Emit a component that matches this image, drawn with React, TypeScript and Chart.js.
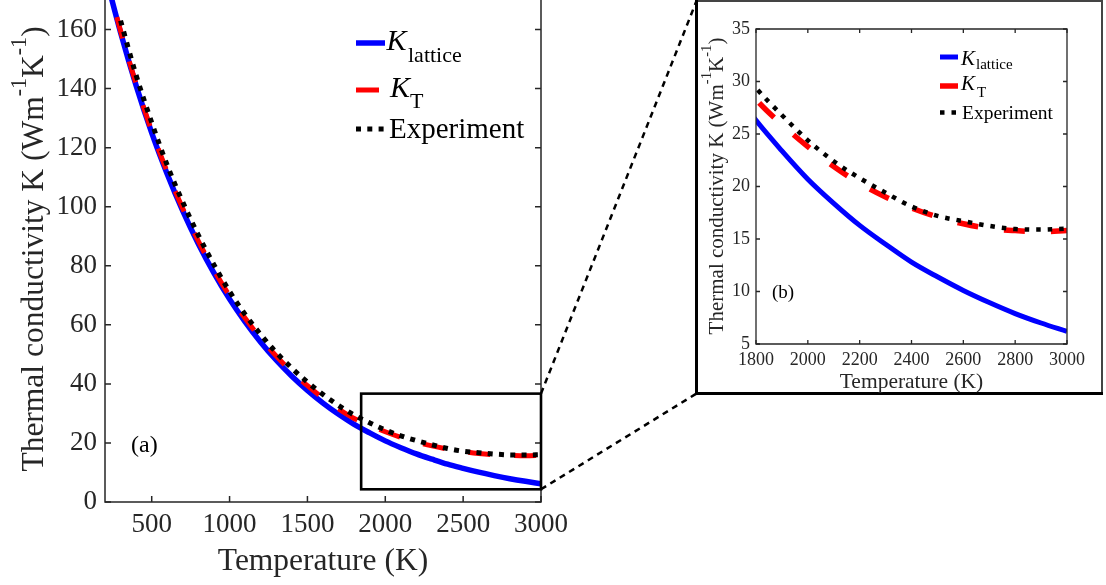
import React, { useEffect, useRef } from 'react';
import { Chart, registerables } from 'chart.js';

Chart.register(...registerables);

// ---------------- data ----------------
const modelTemps = [200, 300, 400, 500, 600, 700, 800, 900, 1000, 1100, 1200, 1300, 1400, 1500, 1600, 1700, 1800, 1900, 2000, 2100, 2200, 2300, 2400, 2500, 2600, 2700, 2800, 2900, 3000];
const kLattice = [179, 159, 141, 125, 111, 98.5, 87.4, 77.5, 68.7, 61.0, 54.1, 48.0, 42.6, 37.8, 33.5, 29.7, 26.3, 23.4, 20.7, 18.4, 16.3, 14.5, 12.8, 11.4, 10.1, 8.95, 7.9, 7.0, 6.2];
const kTotal = [179.3, 159.5, 141.5, 125.6, 111.7, 99.3, 88.3, 78.5, 69.8, 62.2, 55.4, 49.4, 44.1, 39.4, 35.2, 31.5, 28.3, 25.9, 23.8, 21.9, 20.3, 19.0, 17.95, 17.1, 16.45, 16.0, 15.8, 15.7, 15.8];
const expTemps = [300, 400, 500, 600, 700, 800, 900, 1000, 1100, 1200, 1300, 1400, 1500, 1600, 1700, 1800, 1900, 2000, 2100, 2200, 2300, 2400, 2500, 2600, 2700, 2800, 2900, 3000];
const kExperiment = [163, 144.5, 128.5, 114, 101.5, 90.3, 80.3, 71.3, 63.5, 56.7, 50.6, 45.3, 40.6, 36.4, 32.7, 29.4, 26.8, 24.4, 22.4, 20.8, 19.4, 18.1, 17.2, 16.7, 16.25, 15.95, 15.9, 16.0];

const mainXTicks = [500, 1000, 1500, 2000, 2500, 3000];
const mainYTicks = [0, 20, 40, 60, 80, 100, 120, 140, 160];
const insetXTicks = [1800, 2000, 2200, 2400, 2600, 2800, 3000];
const insetYTicks = [5, 10, 15, 20, 25, 30, 35];

const mainRange = { xMin: 200, xMax: 3000, yMin: 0, yMax: 170 };
const insetRange = { xMin: 1800, xMax: 3000, yMin: 5, yMax: 35 };
const zoomBox = { xMin: 1845, xMax: 3000, yMin: 4.3, yMax: 36.7 };

const seriesNames = ['K_lattice', 'K_T', 'Experiment'];

// ---------------- layout / style ----------------
const W = 1106;
const H = 585;
const FONT = "'Liberation Serif', 'Times New Roman', serif";
const AXIS = '#262626';
const BLUE = '#0000ff';
const RED = '#ff0000';
const BLACK = '#000000';

const AREA = {
  main: { left: 105, right: 541, top: 0, bottom: 502 },
  inset: { left: 756, right: 1067, top: 29, bottom: 344 },
};
const FRAME = { left: 696.5, top: 1, right: 1102, bottom: 393.5 };

const STYLE = {
  main: {
    tickFont: 27, tickPadX: 7, tickPadY: 8, tickLen: 6, axisWidth: 1.5,
    blueW: 5.5, redW: 5, redDash: [22, 24], blackW: 5, blackDash: [5, 6.3],
    xTitle: { size: 31.5, baseline: 570 },
    yTitle: { size: 31.5, baselineX: 43, centerY: 249 },
    panel: { text: '(a)', x: 131, y: 452, size: 24 },
    legend: {
      sampleX1: 356, sampleX2: 385,
      rows: [
        { y: 43, K: { x: 386.5, y: 50, size: 30 }, sub: { t: 'lattice', x: 408, y: 62, size: 22 } },
        { y: 90, K: { x: 390, y: 97, size: 30 }, sub: { t: 'T', x: 410, y: 108, size: 22 } },
        { y: 129, text: { t: 'Experiment', x: 389, y: 138, size: 29 } },
      ],
      redX2: 379,
    },
  },
  inset: {
    tickFont: 18, tickPadX: 5, tickPadY: 6, tickLen: 4, axisWidth: 1.3,
    blueW: 5, redW: 5.5, redDash: [21, 26], blackW: 4.5, blackDash: [4.5, 7],
    xTitle: { size: 21.5, baseline: 388 },
    yTitle: { size: 21, baselineX: 723, centerY: 186 },
    panel: { text: '(b)', x: 772, y: 298, size: 19 },
    legend: {
      sampleX1: 940, sampleX2: 958,
      rows: [
        { y: 57, K: { x: 961, y: 65, size: 21 }, sub: { t: 'lattice', x: 976, y: 69, size: 15 } },
        { y: 86, K: { x: 961, y: 90, size: 21 }, sub: { t: 'T', x: 977, y: 97, size: 15 } },
        { y: 112.5, text: { t: 'Experiment', x: 962, y: 118.5, size: 19.5 } },
      ],
      redX2: 958,
    },
  },
};

type Kind = 'main' | 'inset';

function pts(xs: number[], ys: number[]) {
  return xs.map((x, i) => ({ x, y: ys[i] }));
}

function drawRotatedTitle(ctx: CanvasRenderingContext2D, baselineX: number, centerY: number, size: number) {
  const parts = [
    { t: 'Thermal conductivity K (Wm', sup: false },
    { t: '-1', sup: true },
    { t: 'K', sup: false },
    { t: '-1', sup: true },
    { t: ')', sup: false },
  ];
  ctx.save();
  ctx.translate(baselineX, centerY);
  ctx.rotate(-Math.PI / 2);
  ctx.fillStyle = AXIS;
  ctx.textBaseline = 'alphabetic';
  ctx.textAlign = 'left';
  let total = 0;
  const widths: number[] = [];
  for (const p of parts) {
    ctx.font = `${p.sup ? size * 0.7 : size}px ${FONT}`;
    const w = ctx.measureText(p.t).width;
    widths.push(w);
    total += w;
  }
  let u = -total / 2;
  parts.forEach((p, i) => {
    ctx.font = `${p.sup ? size * 0.7 : size}px ${FONT}`;
    ctx.fillText(p.t, u, p.sup ? -size * 0.55 : 0);
    u += widths[i];
  });
  ctx.restore();
}

function decorPlugin(kind: Kind) {
  const st = STYLE[kind];
  return {
    id: 'decor_' + kind,
    afterDatasetsDraw(chart: any) {
      const ctx: CanvasRenderingContext2D = chart.ctx;
      const a = chart.chartArea;
      const xs = chart.scales.x;
      const ys = chart.scales.y;
      ctx.save();
      ctx.setLineDash([]);
      ctx.lineCap = 'butt';

      // axes box
      ctx.strokeStyle = AXIS;
      ctx.lineWidth = st.axisWidth;
      ctx.beginPath();
      ctx.moveTo(a.left, a.top);
      ctx.lineTo(a.left, a.bottom);
      ctx.lineTo(a.right, a.bottom);
      ctx.lineTo(a.right, a.top);
      if (kind === 'inset') ctx.closePath();
      ctx.stroke();

      // inward tick marks
      ctx.beginPath();
      for (const t of xs.ticks) {
        const px = xs.getPixelForValue(t.value);
        ctx.moveTo(px, a.bottom);
        ctx.lineTo(px, a.bottom - st.tickLen);
        if (kind === 'inset') {
          ctx.moveTo(px, a.top);
          ctx.lineTo(px, a.top + st.tickLen);
        }
      }
      for (const t of ys.ticks) {
        const py = ys.getPixelForValue(t.value);
        ctx.moveTo(a.left, py);
        ctx.lineTo(a.left + st.tickLen, py);
        ctx.moveTo(a.right, py);
        ctx.lineTo(a.right - st.tickLen, py);
      }
      ctx.stroke();

      // axis titles
      ctx.fillStyle = AXIS;
      ctx.textBaseline = 'alphabetic';
      ctx.textAlign = 'center';
      ctx.font = `${st.xTitle.size}px ${FONT}`;
      ctx.fillText('Temperature (K)', (a.left + a.right) / 2, st.xTitle.baseline);
      drawRotatedTitle(ctx, st.yTitle.baselineX, st.yTitle.centerY, st.yTitle.size);

      // panel label
      ctx.fillStyle = BLACK;
      ctx.textAlign = 'left';
      ctx.font = `${st.panel.size}px ${FONT}`;
      ctx.fillText(st.panel.text, st.panel.x, st.panel.y);

      // legend
      const lg = st.legend;
      const rows = lg.rows as any[];
      // blue
      ctx.strokeStyle = BLUE;
      ctx.lineWidth = st.blueW;
      ctx.beginPath();
      ctx.moveTo(lg.sampleX1, rows[0].y);
      ctx.lineTo(lg.sampleX2, rows[0].y);
      ctx.stroke();
      // red
      ctx.strokeStyle = RED;
      ctx.lineWidth = st.redW;
      ctx.beginPath();
      ctx.moveTo(lg.sampleX1, rows[1].y);
      ctx.lineTo(lg.redX2, rows[1].y);
      ctx.stroke();
      // black dotted
      ctx.strokeStyle = BLACK;
      ctx.lineWidth = st.blackW;
      ctx.setLineDash(st.blackDash);
      ctx.beginPath();
      ctx.moveTo(lg.sampleX1, rows[2].y);
      ctx.lineTo(lg.sampleX2, rows[2].y);
      ctx.stroke();
      ctx.setLineDash([]);
      ctx.fillStyle = BLACK;
      ctx.textAlign = 'left';
      for (const r of rows) {
        if (r.K) {
          ctx.font = `italic ${r.K.size}px ${FONT}`;
          ctx.fillText('K', r.K.x, r.K.y);
          ctx.font = `${r.sub.size}px ${FONT}`;
          ctx.fillText(r.sub.t, r.sub.x, r.sub.y);
        } else if (r.text) {
          ctx.font = `${r.text.size}px ${FONT}`;
          ctx.fillText(r.text.t, r.text.x, r.text.y);
        }
      }

      if (kind === 'main') {
        // zoom rectangle
        const rx1 = xs.getPixelForValue(zoomBox.xMin);
        const rx2 = xs.getPixelForValue(zoomBox.xMax);
        const ry1 = ys.getPixelForValue(zoomBox.yMax);
        const ry2 = ys.getPixelForValue(zoomBox.yMin);
        ctx.strokeStyle = BLACK;
        ctx.lineWidth = 2.6;
        ctx.strokeRect(rx1, ry1, rx2 - rx1, ry2 - ry1);
        // connectors
        ctx.lineWidth = 2.5;
        ctx.setLineDash([6, 5]);
        ctx.beginPath();
        ctx.moveTo(rx2, ry1);
        ctx.lineTo(FRAME.left, FRAME.top);
        ctx.moveTo(rx2, ry2);
        ctx.lineTo(FRAME.left, FRAME.bottom);
        ctx.stroke();
        ctx.setLineDash([]);
        // inset frame
        ctx.strokeStyle = '#444';
        ctx.lineWidth = 2;
        ctx.beginPath();
        ctx.moveTo(FRAME.left, FRAME.top);
        ctx.lineTo(FRAME.right, FRAME.top);
        ctx.lineTo(FRAME.right, FRAME.bottom);
        ctx.stroke();
        ctx.strokeStyle = BLACK;
        ctx.lineWidth = 3;
        ctx.beginPath();
        ctx.moveTo(FRAME.left, FRAME.top - 1);
        ctx.lineTo(FRAME.left, FRAME.bottom);
        ctx.lineTo(FRAME.right + 1, FRAME.bottom);
        ctx.stroke();
      }
      ctx.restore();
    },
  };
}

function makeConfig(kind: Kind): any {
  const A = AREA[kind];
  const st = STYLE[kind];
  const R = kind === 'main' ? mainRange : insetRange;
  const xt = kind === 'main' ? mainXTicks : insetXTicks;
  const yt = kind === 'main' ? mainYTicks : insetYTicks;
  const yAxisW = 70;
  const tickOpts = (pad: number) => ({
    padding: pad,
    color: AXIS,
    font: { family: FONT, size: st.tickFont },
    autoSkip: false,
    maxRotation: 0,
    minRotation: 0,
    callback: (v: any) => String(v),
  });
  return {
    type: 'line',
    data: {
      datasets: [
        {
          label: seriesNames[0],
          data: pts(modelTemps, kLattice),
          borderColor: BLUE,
          borderWidth: st.blueW,
          pointRadius: 0,
          cubicInterpolationMode: 'monotone',
          fill: false,
          order: 3,
        },
        {
          label: seriesNames[1],
          data: pts(modelTemps, kTotal),
          borderColor: RED,
          borderWidth: st.redW,
          borderDash: st.redDash,
          borderCapStyle: 'butt',
          pointRadius: 0,
          cubicInterpolationMode: 'monotone',
          fill: false,
          order: 2,
        },
        {
          label: seriesNames[2],
          data: pts(expTemps, kExperiment),
          borderColor: BLACK,
          borderWidth: st.blackW,
          borderDash: st.blackDash,
          borderCapStyle: 'butt',
          pointRadius: 0,
          cubicInterpolationMode: 'monotone',
          fill: false,
          order: 1,
        },
      ],
    },
    options: {
      responsive: false,
      maintainAspectRatio: false,
      animation: false,
      devicePixelRatio: 1,
      events: [],
      layout: {
        padding: { left: A.left - yAxisW, right: W - A.right, top: A.top, bottom: 0 },
      },
      plugins: { legend: { display: false }, tooltip: { enabled: false }, title: { display: false } },
      scales: {
        x: {
          type: 'linear',
          min: R.xMin,
          max: R.xMax,
          grid: { display: false, drawTicks: false },
          border: { display: false },
          ticks: tickOpts(st.tickPadX),
          afterBuildTicks: (s: any) => { s.ticks = xt.map((v) => ({ value: v })); },
          afterFit: (s: any) => { s.height = H - A.bottom; s.paddingLeft = 0; s.paddingRight = 0; },
        },
        y: {
          type: 'linear',
          min: R.yMin,
          max: R.yMax,
          grid: { display: false, drawTicks: false },
          border: { display: false },
          ticks: tickOpts(st.tickPadY),
          afterBuildTicks: (s: any) => { s.ticks = yt.map((v) => ({ value: v })); },
          afterFit: (s: any) => { s.width = yAxisW; s.paddingTop = 0; s.paddingBottom = 0; },
        },
      },
    },
    plugins: [decorPlugin(kind)],
  };
}

export default function App() {
  const mainRef = useRef<HTMLCanvasElement>(null);
  const insetRef = useRef<HTMLCanvasElement>(null);
  useEffect(() => {
    const c1 = new Chart(mainRef.current as HTMLCanvasElement, makeConfig('main'));
    const c2 = new Chart(insetRef.current as HTMLCanvasElement, makeConfig('inset'));
    return () => {
      c1.destroy();
      c2.destroy();
    };
  }, []);
  const cs: React.CSSProperties = { position: 'absolute', left: 0, top: 0, width: W, height: H };
  return (
    <div style={{ position: 'absolute', left: 0, top: 0, width: W, height: H, background: '#ffffff', overflow: 'hidden' }}>
      <canvas ref={mainRef} width={W} height={H} style={cs} />
      <canvas ref={insetRef} width={W} height={H} style={cs} />
    </div>
  );
}
